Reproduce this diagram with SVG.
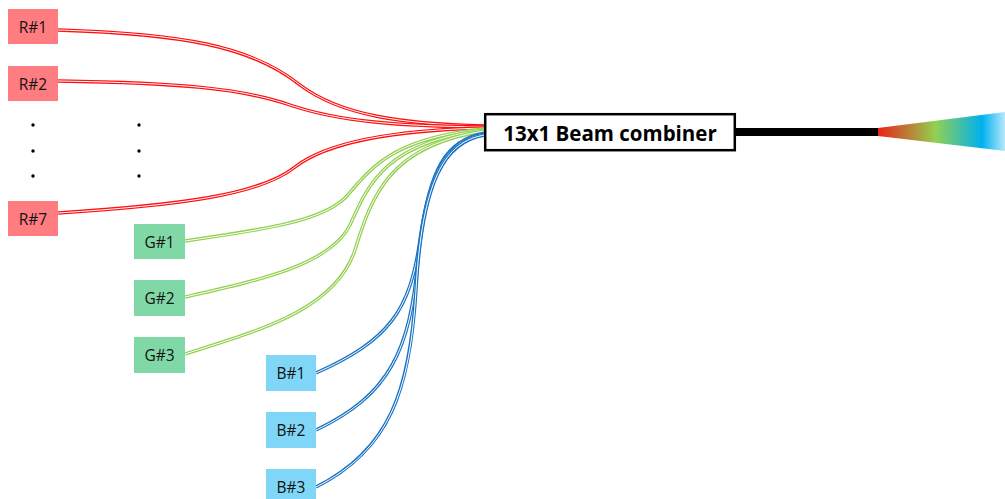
<svg xmlns="http://www.w3.org/2000/svg" width="1005" height="499" viewBox="0 0 1005 499">
<style>
.lbl{font-family:"Open Sans","Liberation Sans",sans-serif;font-size:15.5px;fill:#111;text-anchor:middle;dominant-baseline:central}
.r{fill:#ff7c80}.g{fill:#80d8a6}.b{fill:#80d6f7}
.f{fill:none;stroke-width:3.4}
.fr{stroke:#ff1010}.fg{stroke:#92d050}.fb{stroke:#1a74c4}
.in{fill:none;stroke:#fff;stroke-width:1}
.dot{fill:#000}
</style>
<defs>
<linearGradient id="cone" x1="878" y1="0" x2="1005" y2="0" gradientUnits="userSpaceOnUse">
<stop offset="0" stop-color="#e8231a"/>
<stop offset="0.45" stop-color="#92d050"/>
<stop offset="0.82" stop-color="#00b0f0"/>
<stop offset="1" stop-color="#b8e8fb"/>
</linearGradient>
<path id="p1" d="M58,30 C180,34 250,45 300,85 C340,115 400,124 485,126"/>
<path id="p2" d="M58,81 C180,83 240,88 290,105 C340,122 400,126 485,127"/>
<path id="p7" d="M58,213 C180,205 260,195 295,167 C330,140 400,130 485,128"/>
<path id="q1" d="M185,241 C260,230 320,222 345,198 C370,170 390,138 485,129"/>
<path id="q2" d="M185,297 C260,280 330,265 350,225 C368,185 385,142 485,130"/>
<path id="q3" d="M185,354 C260,330 335,310 355,250 C372,195 390,145 485,131"/>
<path id="s1" d="M316,373 C390,340 410,310 420,240 C430,170 445,140 485,133"/>
<path id="s2" d="M316,430 C390,395 410,350 418,260 C426,175 445,140 485,134"/>
<path id="s3" d="M316,487 C390,450 410,390 416,290 C422,180 445,141 485,135"/>
</defs>
<g id="connectors">
<use href="#p1" class="f fr"/><use href="#p1" class="in"/>
<use href="#p2" class="f fr"/><use href="#p2" class="in"/>
<use href="#p7" class="f fr"/><use href="#p7" class="in"/>
<use href="#q1" class="f fg"/><use href="#q1" class="in"/>
<use href="#q2" class="f fg"/><use href="#q2" class="in"/>
<use href="#q3" class="f fg"/><use href="#q3" class="in"/>
<use href="#s1" class="f fb"/><use href="#s1" class="in"/>
<use href="#s2" class="f fb"/><use href="#s2" class="in"/>
<use href="#s3" class="f fb"/><use href="#s3" class="in"/>
<rect x="735" y="128" width="143" height="8" fill="#000"/>
<polygon points="878,128 1005,112 1005,151 878,136" fill="url(#cone)"/>
</g>
<g id="dots">
<circle class="dot" cx="33" cy="125" r="1.7"/><circle class="dot" cx="33" cy="151" r="1.7"/><circle class="dot" cx="33" cy="176" r="1.7"/>
<circle class="dot" cx="139" cy="125" r="1.7"/><circle class="dot" cx="139" cy="151" r="1.7"/><circle class="dot" cx="139" cy="176" r="1.7"/>
</g>
<g id="R1"><rect class="r" x="8" y="9" width="50" height="35"/><text class="lbl" x="33" y="27">R#1</text></g>
<g id="R2"><rect class="r" x="8" y="66" width="50" height="35"/><text class="lbl" x="33" y="84">R#2</text></g>
<g id="R7"><rect class="r" x="8" y="201" width="50" height="35"/><text class="lbl" x="33" y="219">R#7</text></g>
<g id="G1"><rect class="g" x="134" y="224" width="51" height="35"/><text class="lbl" x="159.5" y="242">G#1</text></g>
<g id="G2"><rect class="g" x="134" y="280" width="51" height="36"/><text class="lbl" x="159.5" y="298">G#2</text></g>
<g id="G3"><rect class="g" x="134" y="337" width="51" height="36"/><text class="lbl" x="159.5" y="355">G#3</text></g>
<g id="B1"><rect class="b" x="266" y="355" width="50" height="36"/><text class="lbl" x="291" y="373">B#1</text></g>
<g id="B2"><rect class="b" x="266" y="412" width="50" height="36"/><text class="lbl" x="291" y="430">B#2</text></g>
<g id="B3"><rect class="b" x="266" y="469" width="50" height="36"/><text class="lbl" x="291" y="487">B#3</text></g>
<g id="combiner"><rect x="485.2" y="114.2" width="249.6" height="36" fill="#fff" stroke="#000" stroke-width="2.5"/><text x="610" y="132.5" font-family="Open Sans,Liberation Sans,sans-serif" font-size="20.5" font-weight="bold" text-anchor="middle" dominant-baseline="central" fill="#000">13x1 Beam combiner</text></g>
</svg>
